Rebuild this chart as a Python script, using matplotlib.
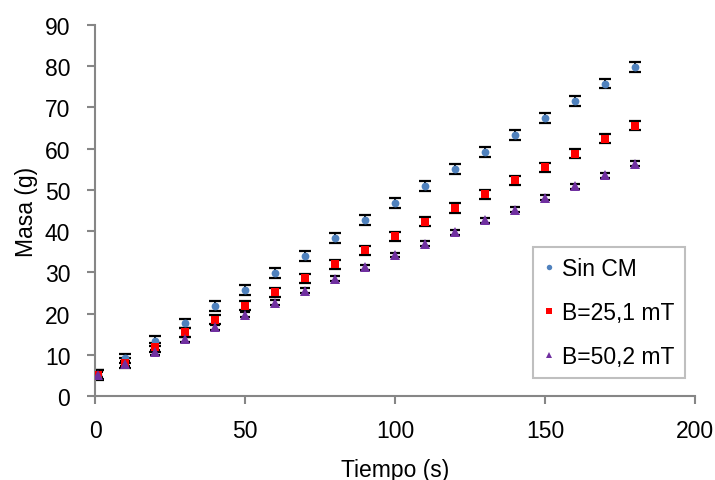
import matplotlib
matplotlib.use("Agg")
import matplotlib.pyplot as plt
from matplotlib.ticker import MultipleLocator

TIME = [1, 10, 20, 30, 40, 50, 60, 70, 80, 90, 100, 110, 120, 130, 140, 150, 160, 170, 180]
SIN_CM = [5.2, 9.1, 13.3, 17.6, 21.8, 25.8, 29.9, 34.0, 38.3, 42.6, 46.8, 50.9, 55.1, 59.1,
          63.4, 67.4, 71.5, 75.8, 79.8]
B_25 = [5.2, 8.0, 11.8, 15.5, 18.5, 21.9, 25.2, 28.6, 32.0, 35.4, 38.8, 42.3, 45.6, 48.9,
        52.3, 55.5, 58.8, 62.4, 65.6]
B_50 = [5.2, 7.8, 10.6, 13.8, 16.7, 19.7, 22.6, 25.5, 28.4, 31.2, 34.2, 36.9, 39.7, 42.6,
        45.2, 48.1, 50.9, 53.6, 56.3]
ERR_SIN_CM = 1.2
ERR_B_25 = 1.1
ERR_B_50 = 0.6

plt.rcParams["font.family"] = ["Liberation Sans", "DejaVu Sans"]
FS = 16.5

fig = plt.figure(figsize=(7.15, 4.81), dpi=100)
ax = fig.add_axes([95 / 715, 1 - 397 / 481, 600 / 715, 371 / 481])

series = [
    (SIN_CM, ERR_SIN_CM, "Sin CM", "o", "#4F81BD", 5.6, 4.3),
    (B_25, ERR_B_25, "B=25,1 mT", "s", "#FF0000", 6.0, 4.3),
    (B_50, ERR_B_50, "B=50,2 mT", "^", "#7030A0", 7.0, 3.3),
]
handles = []
for values, err, label, marker, color, size, cap in series:
    ax.errorbar(TIME, values, yerr=err, fmt="none", ecolor="black",
                elinewidth=1.4, capsize=cap, capthick=1.6, zorder=2)
    h, = ax.plot(TIME, values, linestyle="none", marker=marker, color=color,
                 markersize=size, markeredgewidth=0, zorder=3, label=label)
    handles.append(h)

ax.set_xlim(0, 200)
ax.set_ylim(0, 90)
ax.xaxis.set_major_locator(MultipleLocator(50))
ax.yaxis.set_major_locator(MultipleLocator(10))
for side in ("top", "right"):
    ax.spines[side].set_visible(False)
for side in ("left", "bottom"):
    ax.spines[side].set_color("#868686")
    ax.spines[side].set_linewidth(1.5)
ax.tick_params(direction="out", length=5.8, width=1.5, color="#868686", labelsize=FS)
ax.tick_params(axis="y", pad=12)
ax.tick_params(axis="x", pad=11)
ax.set_xlabel("Tiempo (s)", fontsize=FS, labelpad=11)
ax.set_ylabel("Masa (g)", fontsize=FS, labelpad=5)

leg = ax.legend(handles=handles, loc="upper right", bbox_to_anchor=(590 / 600, 149 / 371),
                borderaxespad=0, fontsize=FS, markerscale=0.7, handlelength=0.55,
                handletextpad=0.3, labelspacing=0.9, borderpad=0.45,
                fancybox=False, framealpha=1)
leg.get_frame().set_edgecolor("#BFBFBF")
leg.get_frame().set_linewidth(1.5)

fig.savefig("out.png", dpi=100)
